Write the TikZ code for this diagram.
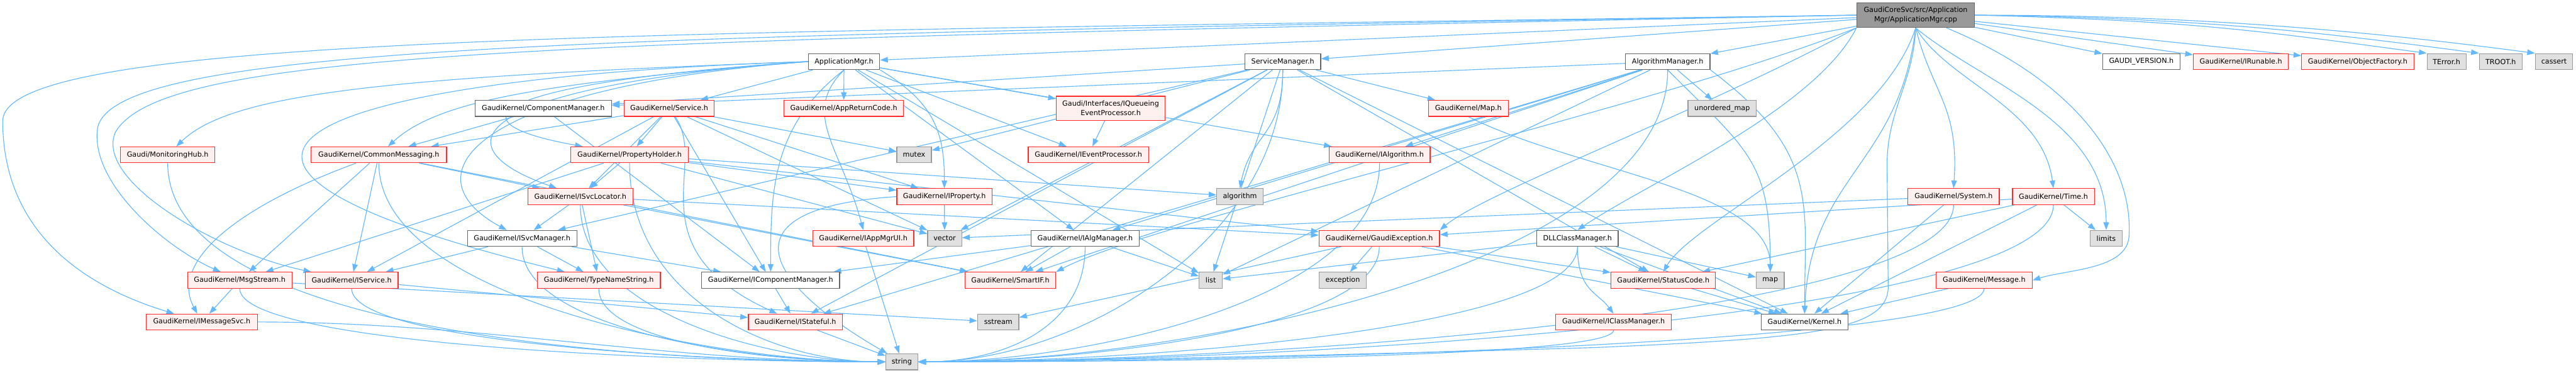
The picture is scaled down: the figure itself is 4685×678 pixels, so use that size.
\documentclass[tikz,border=0pt]{standalone}
\usepackage{fontspec}
\setmainfont{DejaVu Sans}
\usetikzlibrary{arrows.meta}
\definecolor{ecol}{HTML}{63B8FF}
\definecolor{rborder}{HTML}{FF2A2A}
\definecolor{rfill}{HTML}{FFF0F0}
\definecolor{wborder}{HTML}{666666}
\definecolor{gfill}{HTML}{E0E0E0}
\definecolor{gborder}{HTML}{999999}
\definecolor{rootfill}{HTML}{999999}
\definecolor{rootborder}{HTML}{666666}
\pgfdeclarelayer{bgl}
\pgfdeclarelayer{edl}
\pgfsetlayers{bgl,edl,main}
\tikzset{
  nbase/.style={draw, line width=1.4pt, inner sep=0pt, minimum height=29pt, font=\fontsize{12.8}{17}\selectfont, text=black, align=center},
  rn/.style={nbase, draw=rborder, fill=rfill},
  wn/.style={nbase, draw=wborder, fill=white},
  gn/.style={nbase, draw=gborder, fill=gfill},
  rootn/.style={nbase, draw=rootborder, fill=rootfill},
  arr/.style={draw=ecol, line width=1.3pt, -{Triangle[length=14pt,width=10pt]}},
}
\newcommand{\toStrL}[3]{\draw[arr] (#1.south) .. controls +(0,#2) and +(#3,0) .. (string.west);}
\newcommand{\toStrR}[3]{\draw[arr] (#1.south) .. controls +(0,#2) and +(#3,0) .. (string.east);}
\begin{document}
\begin{tikzpicture}[x=1pt,y=-1pt]
\useasboundingbox (0,0) rectangle (4685,678);
\begin{pgfonlayer}{bgl}
\fill[white] (0,0) rectangle (4685,678);
\end{pgfonlayer}
% row 0/1
\node[rootn, minimum width=214pt, minimum height=45pt] (root) at (3484,27.5) {GaudiCoreSvc/src/Application\\Mgr/ApplicationMgr.cpp};
\node[wn, minimum width=130pt] (AM) at (1535,112) {ApplicationMgr.h};
\node[wn, minimum width=138pt] (SM) at (2333,112) {ServiceManager.h};
\node[wn, minimum width=154pt] (AlgM) at (3033,112) {AlgorithmManager.h};
\node[wn, minimum width=141pt] (GV) at (3894.5,112) {GAUDI\_VERSION.h};
\node[rn, minimum width=173pt] (IRun) at (4075.5,112) {GaudiKernel/IRunable.h};
\node[rn, minimum width=204pt] (ObjF) at (4288,112) {GaudiKernel/ObjectFactory.h};
\node[gn, minimum width=71pt] (TErr) at (4449.5,112) {TError.h};
\node[gn, minimum width=78pt] (TROOT) at (4548,112) {TROOT.h};
\node[gn, minimum width=68pt] (cassert) at (4645,112) {cassert};
% row 2
\node[wn, minimum width=248pt] (CompMgr) at (988,197) {GaudiKernel/ComponentManager.h};
\node[rn, minimum width=164pt] (Service) at (1217,197) {GaudiKernel/Service.h};
\node[rn, minimum width=217pt] (AppRet) at (1534.5,197) {GaudiKernel/AppReturnCode.h};
\node[rn, minimum width=198pt, minimum height=44pt] (IQueue) at (2020,197) {Gaudi/Interfaces/IQueueing\\EventProcessor.h};
\node[rn, minimum width=145pt] (Map) at (2670.5,197) {GaudiKernel/Map.h};
\node[gn, minimum width=124pt] (unord) at (3132,197) {unordered\_map};
% row 3
\node[rn, minimum width=172pt] (MonHub) at (305,281.5) {Gaudi/MonitoringHub.h};
\node[rn, minimum width=246pt] (CommMsg) at (689,281.5) {GaudiKernel/CommonMessaging.h};
\node[rn, minimum width=214pt] (PropH) at (1145,281.5) {GaudiKernel/PropertyHolder.h};
\node[gn, minimum width=63pt] (mutex) at (1662.5,281.5) {mutex};
\node[rn, minimum width=219pt] (IEvtP) at (1979.5,281.5) {GaudiKernel/IEventProcessor.h};
\node[rn, minimum width=184pt] (IAlg) at (2509,281.5) {GaudiKernel/IAlgorithm.h};
% row 4
\node[rn, minimum width=191pt] (ISvcLoc) at (1055.5,357.5) {GaudiKernel/ISvcLocator.h};
\node[rn, minimum width=173pt] (IProp) at (1717.5,357.5) {GaudiKernel/IProperty.h};
\node[gn, minimum width=84pt] (algorithm) at (2255,357.5) {algorithm};
\node[rn, minimum width=166pt] (System) at (3553,357.5) {GaudiKernel/System.h};
\node[rn, minimum width=149pt] (Time) at (3734.5,357.5) {GaudiKernel/Time.h};
% row 5
\node[wn, minimum width=199pt] (ISvcMgr) at (949.5,433.5) {GaudiKernel/ISvcManager.h};
\node[rn, minimum width=184pt] (IAppMgrUI) at (1570,433.5) {GaudiKernel/IAppMgrUI.h};
\node[gn, minimum width=62pt] (vector) at (1718,433.5) {vector};
\node[wn, minimum width=197pt] (IAlgMgr) at (1973.5,433.5) {GaudiKernel/IAlgManager.h};
\node[rn, minimum width=219pt] (GExc) at (2508.5,433.5) {GaudiKernel/GaudiException.h};
\node[wn, minimum width=148pt] (DLL) at (2869,433.5) {DLLClassManager.h};
\node[gn, minimum width=59pt] (limits) at (3830.5,433.5) {limits};
% row 6
\node[rn, minimum width=190pt] (MsgStream) at (436,509.5) {GaudiKernel/MsgStream.h};
\node[rn, minimum width=169pt] (IService) at (639.5,509.5) {GaudiKernel/IService.h};
\node[rn, minimum width=224pt] (TypeName) at (1089,509.5) {GaudiKernel/TypeNameString.h};
\node[wn, minimum width=251pt] (ICompMgr) at (1401.5,509.5) {GaudiKernel/IComponentManager.h};
\node[rn, minimum width=165pt] (SmartIF) at (1837.5,509.5) {GaudiKernel/SmartIF.h};
\node[gn, minimum width=42pt] (list) at (2202,509.5) {list};
\node[gn, minimum width=86pt] (exception) at (2442,509.5) {exception};
\node[rn, minimum width=190pt] (StatusCode) at (3025,509.5) {GaudiKernel/StatusCode.h};
\node[gn, minimum width=51pt] (map) at (3219.5,509.5) {map};
\node[rn, minimum width=175pt] (Message) at (3608.5,509.5) {GaudiKernel/Message.h};
% row 7
\node[rn, minimum width=202pt] (IMsgSvc) at (367,585.5) {GaudiKernel/IMessageSvc.h};
\node[rn, minimum width=171pt] (IStateful) at (1446.5,585.5) {GaudiKernel/IStateful.h};
\node[gn, minimum width=75pt] (sstream) at (1815.5,585.5) {sstream};
\node[rn, minimum width=211pt] (IClassMgr) at (2934.5,585.5) {GaudiKernel/IClassManager.h};
\node[wn, minimum width=158pt] (Kernel) at (3282,585.5) {GaudiKernel/Kernel.h};
% row 8
\node[gn, minimum width=58pt] (string) at (1640,658) {string};

\begin{pgfonlayer}{edl}
% ---- edges from root
\draw[arr] (root) -- (AM);
\draw[arr] (root) -- (SM);
\draw[arr] (root) -- (AlgM);
\draw[arr] (root.south west) .. controls (3300,200) and (3000,330) .. (DLL.north);
\draw[arr] (root) -- (GV);
\draw[arr] (root) -- (IRun);
\draw[arr] (root) -- (ObjF);
\draw[arr] (root.east) .. controls +(400,10) and +(-300,-40) .. (TErr.north west);
\draw[arr] (root.east) .. controls +(400,5) and +(-300,-40) .. (TROOT.north west);
\draw[arr] (root.east) .. controls +(400,0) and +(-300,-40) .. (cassert.north west);
\draw[arr] (root.south) .. controls +(30,120) and +(10,-150) .. (System.north);
\draw[arr] (root.south) .. controls +(60,100) and +(-20,-150) .. (Time.north);
\draw[arr] (root.south) .. controls +(120,100) and +(0,-200) .. (limits.north);
\draw[arr] (root) .. controls (3780,150) and (3880,300) .. (3872,430) .. controls (3868,490) and (3760,490) .. (Message.east);
\draw[arr] (root.west) .. controls (1200,60) and (5,60) .. (5,220) .. controls (5,420) and (150,520) .. (IMsgSvc);
\draw[arr] (root.west) .. controls (1100,65) and (220,80) .. (178,230) .. controls (160,330) and (300,450) .. (MsgStream);
\draw[arr] (root.west) .. controls (1000,75) and (300,90) .. (210,240) .. controls (170,330) and (400,460) .. (IService);
\draw[arr] (root.south) .. controls (3420,250) and (3080,400) .. (StatusCode.north);
\draw[arr] (root.south) .. controls +(-30,250) and +(10,-250) .. (Kernel.north);
\draw[arr] (root.south west) .. controls (3100,200) and (2700,350) .. (GExc.north east);
\draw[arr] (root.south west) .. controls (3000,200) and (2100,400) .. (SmartIF.north east);
\draw[arr] (root.south) .. controls (3480,150) and (3432,200) .. (3432,300) -- (3434,520) .. controls (3436,600) and (3300,615) .. (2900,632) .. controls (2300,650) and (1900,656) .. (string.east);
% ---- ApplicationMgr.h
\draw[arr] (AM) -- (Service);
\draw[arr] (AM) -- (AppRet);
\draw[arr] (AM.south east) .. controls +(100,60) and +(0,-100) .. (IProp.north);
\draw[arr] (AM.south) .. controls +(-80,80) and +(-40,-150) .. (IAppMgrUI.north);
\draw[arr] (AM.south) .. controls +(-130,100) and +(0,-150) .. (ICompMgr.north);
\draw[arr] (AM) -- (IQueue);
\draw[arr] (AM) -- (IEvtP);
\draw[arr] (AM.west) .. controls (1000,150) and (800,180) .. (CommMsg);
\draw[arr] (AM.west) .. controls (900,150) and (800,220) .. (PropH);
\draw[arr] (AM.west) .. controls (880,155) and (780,260) .. (ISvcLoc);
\draw[arr] (AM.west) .. controls (850,160) and (740,320) .. (ISvcMgr);
\draw[arr] (AM.west) .. controls (700,140) and (420,170) .. (MonHub);
\draw[arr] (AM.west) .. controls (600,140) and (150,280) .. (TypeName);
\draw[arr] (AM) -- (IAlg);
\draw[arr] (AM) -- (IAlgMgr);
\draw[arr] (AM) -- (list);
% ---- ServiceManager.h
\draw[arr] (SM) -- (CompMgr);
\draw[arr] (SM) -- (ISvcMgr);
\draw[arr] (SM) -- (Map);
\draw[arr] (SM.south) .. controls +(0,120) and +(20,-100) .. (algorithm.north);
\draw[arr] (SM) -- (mutex);
\draw[arr] (SM) -- (SmartIF);
\draw[arr] (SM) -- (vector);
\draw[arr] (SM) -- (list);
\draw[arr] (SM) -- (IStateful);
\draw[arr] (SM) -- (Kernel);
\draw[arr] (SM) -- (StatusCode);
\toStrR{SM}{300}{300}
% ---- AlgorithmManager.h
\draw[arr] (AlgM) -- (CompMgr);
\draw[arr] (AlgM) -- (unord);
\draw[arr] (AlgM.south) .. controls +(150,150) and +(0,-200) .. (map.north);
\draw[arr] (AlgM.south east) .. controls +(200,150) and +(0,-200) .. (Kernel.north);
\toStrR{AlgM}{350}{500}
\draw[arr] (AlgM) -- (IAlg);
\draw[arr] (AlgM) -- (IAlgMgr);
\draw[arr] (AlgM) -- (SmartIF);
\draw[arr] (AlgM) -- (IStateful);
\draw[arr] (AlgM) -- (list);
% ---- DLLClassManager.h
\draw[arr] (DLL.south) .. controls +(0,80) and +(-30,-40) .. (IClassMgr.north);
\draw[arr] (DLL) -- (StatusCode);
\draw[arr] (DLL) -- (map);
\draw[arr] (DLL) -- (Kernel);
\toStrR{DLL}{150}{400}
\draw[arr] (DLL) -- (list);
% ---- ComponentManager.h
\draw[arr] (CompMgr) -- (CommMsg);
\draw[arr] (CompMgr) -- (ICompMgr);
% ---- Service.h
\draw[arr] (Service) -- (CommMsg);
\draw[arr] (Service) -- (PropH);
\draw[arr] (Service) -- (mutex);
\draw[arr] (Service) -- (IProp);
\draw[arr] (Service) -- (vector);
\draw[arr] (Service) -- (ICompMgr);
\draw[arr] (Service) .. controls (1290,300) and (1150,450) .. (IStateful);
\draw[arr] (Service) -- (ISvcLoc);
\draw[arr] (Service) -- (IService);
% ---- CommonMessaging.h
\draw[arr] (CommMsg) .. controls (420,380) and (310,480) .. (IMsgSvc);
\draw[arr] (CommMsg) -- (MsgStream);
\draw[arr] (CommMsg) -- (ISvcLoc);
\draw[arr] (CommMsg) -- (IService);
\draw[arr] (CommMsg) -- (SmartIF);
\toStrL{CommMsg}{250}{-300}
% ---- PropertyHolder.h
\draw[arr] (PropH) -- (IProp);
\draw[arr] (PropH) -- (ISvcLoc);
\draw[arr] (PropH) -- (algorithm);
\draw[arr] (PropH) -- (vector);
\draw[arr] (PropH) -- (GExc);
\draw[arr] (PropH) -- (MsgStream);
\toStrL{PropH}{250}{-200}
% ---- ISvcLocator.h
\draw[arr] (ISvcLoc) -- (ISvcMgr);
\draw[arr] (ISvcLoc) -- (TypeName);
\draw[arr] (ISvcLoc) -- (SmartIF);
\draw[arr] (ISvcLoc) -- (GExc);
\toStrL{ISvcLoc}{200}{-200}
% ---- ISvcManager.h
\draw[arr] (ISvcMgr) -- (IService);
\draw[arr] (ISvcMgr) -- (TypeName);
\draw[arr] (ISvcMgr) -- (ICompMgr);
\toStrL{ISvcMgr}{150}{-250}
% ---- others
\draw[arr] (IService) -- (IStateful);
\toStrL{IService}{100}{-300}
\draw[arr] (IMsgSvc.east) .. controls +(400,0) and +(-400,0) .. (string.west);
\draw[arr] (MsgStream) -- (sstream);
\draw[arr] (MsgStream) -- (IMsgSvc);
\toStrL{MsgStream}{100}{-400}
\toStrL{TypeName}{100}{-200}
\draw[arr] (ICompMgr) -- (IStateful);
\draw[arr] (IStateful) -- (string);
\draw[arr] (IAppMgrUI) -- (string);
\draw[arr] (IProp) -- (vector);
\draw[arr] (IProp.west) .. controls (1300,380) and (1400,520) .. (string);
\draw[arr] (IQueue) -- (IEvtP);
\draw[arr] (IAlgMgr) -- (SmartIF);
\draw[arr] (IAlgMgr) -- (list);
\draw[arr] (IAlgMgr) -- (ICompMgr);
\toStrR{IAlgMgr}{150}{150}
\toStrR{IAlg}{250}{300}
\draw[arr] (Map.south) .. controls +(200,100) and +(0,-150) .. (map.north);
\draw[arr] (GExc) -- (exception);
\toStrR{GExc}{150}{300}
\draw[arr] (GExc) -- (StatusCode);
\draw[arr] (GExc) -- (Kernel);
\draw[arr] (GExc) -- (sstream);
\draw[arr] (StatusCode) -- (Kernel);
\draw[arr] (System) -- (Kernel);
\toStrR{System}{200}{600}
\draw[arr] (System) -- (vector);
\draw[arr] (Time) -- (limits);
\draw[arr] (Time) -- (Kernel);
\toStrR{Time}{200}{700}
\draw[arr] (Time) -- (GExc);
\draw[arr] (Time) -- (StatusCode);
\draw[arr] (Message) -- (Kernel);
\toStrR{Message}{100}{600}
\toStrR{IClassMgr}{50}{400}
\toStrL{MonHub}{300}{-500}
\end{pgfonlayer}
\end{tikzpicture}
\end{document}
